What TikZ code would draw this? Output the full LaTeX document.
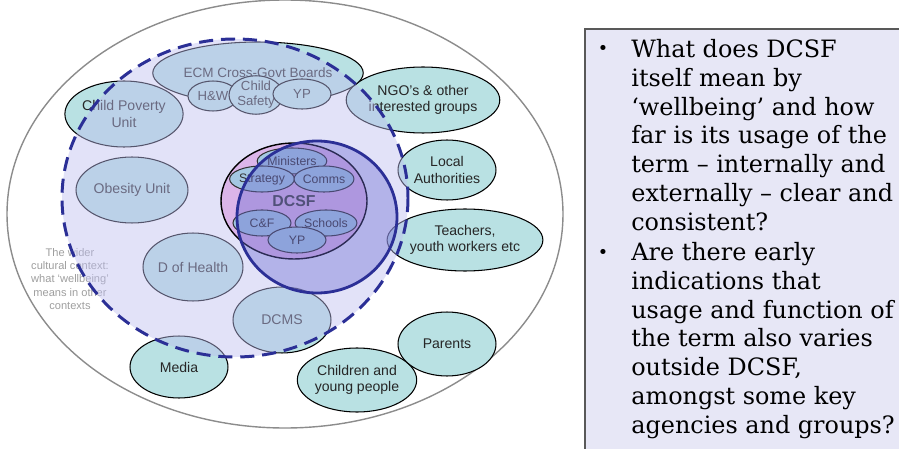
\documentclass[tikz,border=0pt]{standalone}
\usepackage{fontspec}
\setmainfont{Liberation Sans}
\newfontfamily\qfont{DejaVu Serif}
\usetikzlibrary{shapes,positioning}
\definecolor{mteal}{HTML}{B9E1E3}
\definecolor{mlav}{HTML}{BEBEF0}
\definecolor{mnavy}{HTML}{2B2F96}
\definecolor{mpink}{HTML}{DBB5E9}
\definecolor{msky}{HTML}{A4C8E2}
\definecolor{mblue}{HTML}{6C6CD2}
\definecolor{mbox}{HTML}{E7E7F6}
\tikzstyle{grp}=[ellipse, draw=black, fill=mteal, line width=0.6, inner sep=0pt, align=center, text=black!85, font=\fontsize{8}{9.4}\selectfont]
\tikzstyle{unit}=[ellipse, draw=black!80, fill=msky, line width=0.6, inner sep=0pt, text=black!80, font=\fontsize{7}{8}\selectfont]
\tikzstyle{qtext}=[inner sep=0pt, align=left, font=\qfont\fontsize{13.6}{16.4}\selectfont]
\tikzset{rad/.style 2 args={minimum width=#1*0.04cm, minimum height=#2*0.04cm}}

\begin{document}
\begin{tikzpicture}[x=0.02cm, y=-0.02cm]
    \useasboundingbox (0,0) rectangle (899,449);
    \draw[black!45, line width=0.8] (285,214) ellipse [x radius=278, y radius=214];
    \node[text=black!38, align=center, font=\fontsize{6.3}{7.5}\selectfont] at (70,279) (wider) {The wider\\cultural context:\\what ‘wellbeing’\\means in other\\contexts};

    \node[grp, rad={56}{33}] at (124,114) (cpu) {Child Poverty\\Unit};
    \node[grp, rad={56}{33}] at (132,190) (obesity) {Obesity Unit};
    \node[grp, rad={50}{34}] at (193,267) (doh) {D of Health};
    \node[grp, rad={49}{33}] at (282,320) (dcms) {DCMS};
    \node[grp, rad={49}{31}] at (179,367) (media) {Media};
    \node[grp, rad={50}{32}] at (357,380) (cyp) {Children and\\young people};
    \node[grp, rad={49}{32}] at (447,344) (parents) {Parents};
    \node[grp, rad={67}{31}] at (465,240) (teachers) {Teachers,\\youth workers etc};
    \node[grp, rad={49}{30}] at (447,170) (la) {Local\\Authorities};
    \node[grp, rad={65}{33}] at (423,100) (ngo) {NGO’s \& other\\interested groups};
    \node[grp, rad={96}{31}, font=\fontsize{7.7}{9}\selectfont] at (258,73) (ecm) {ECM Cross-Govt Boards};
    \node[grp, rad={25}{15}, font=\fontsize{7.5}{8.5}\selectfont] at (213,96) (hw) {H\&W};
    \node[grp, rad={27}{18}, font=\fontsize{7.5}{8.5}\selectfont] at (256,95) (safety) {Child\\Safety};
    \node[grp, rad={29}{15}, font=\fontsize{7.5}{8.5}\selectfont] at (302,94) (ecmyp) {YP};

    % dashed boundary of the wider context
    \draw[mnavy, line width=1.7, dash pattern=on 8pt off 4.5pt, fill=mlav, fill opacity=0.45] (235,198) ellipse [x radius=173, y radius=159];

    \node[ellipse, draw=black, fill=mpink, line width=0.8, rad={73}{58}, text=black!75, font=\bfseries\fontsize{9}{10}\selectfont] at (294,201) (dcsf) {DCSF};
    \node[unit, rad={29}{13}] at (292,161) (ministers) {Ministers};
    \node[unit, rad={29}{13}] at (262,179) (strategy) {Strategy};
    \node[unit, rad={29}{13}] at (324,179) (comms) {Comms};
    \node[unit, rad={29}{13}] at (262,223) (cf) {C\&F};
    \node[unit, rad={27}{13}] at (326,223) (schools) {Schools};
    \node[unit, rad={29}{13}] at (297,240) (dcsfyp) {YP};
    \draw[mnavy, line width=1.6, fill=mblue, fill opacity=0.4] (317,217) ellipse [x radius=80, y radius=76];

    % question box
    \fill[mbox] (585,29) rectangle (899,449);
    \draw[black!65, line width=0.8] (585,449) -- (585,29) -- (899,29);
    \node[qtext, anchor=north west] at (631,39) (q1) {What does DCSF\\itself mean by\\‘wellbeing’ and how\\far is its usage of the\\term – internally and\\externally – clear and\\consistent?};
    \node[qtext, anchor=north west] at (631,242) (q2) {Are there early\\indications that\\usage and function of\\the term also varies\\outside DCSF,\\amongst some key\\agencies and groups?};
    \node[qtext, anchor=base, font=\qfont\fontsize{10}{12}\selectfont] at (603,55) (b1) {•};
    \node[qtext, anchor=base, font=\qfont\fontsize{10}{12}\selectfont] at (603,258) (b2) {•};
\end{tikzpicture}
\end{document}
